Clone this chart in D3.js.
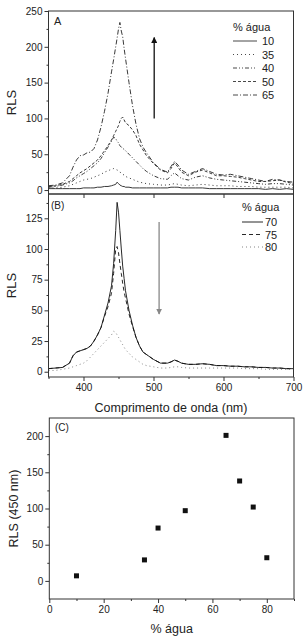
<!DOCTYPE html>
<html>
<head>
<meta charset="utf-8">
<title>RLS vs % água</title>
<script src="https://d3js.org/d3.v7.min.js"></script>
<style>
  body { margin: 0; background: #fff; }
  svg text { font-family: "Liberation Sans", Arial, sans-serif; fill: #222; }
  .frame { fill: none; stroke: #333; stroke-width: 1; }
  .tick line { stroke: #333; }
  .curve { fill: none; stroke-width: 0.9; stroke-linejoin: round; }
</style>
</head>
<body>
<div id="chart"></div>
<script>
// wavelength grid (nm) shared by every spectrum
var wl = [350,360,370,380,385,390,395,400,405,410,415,420,425,430,435,440,443,446,448,450,
          452,454,456,458,460,465,470,475,480,485,490,500,510,520,525,530,535,540,550,560,
          570,580,590,600,610,620,630,640,650,660,670,680,690,700];

// panel A spectra
var a10 = [2,2,2,2,2,2,2,3,3,3,3,4,4,5,5,6,7,8,11,9,
           7,6,5,5,4,4,3,3,3,3,3,3,3,3,4,4,4,3,3,3,
           3,2,2,2,2,2,2,2,2,1,2,1,2,1];
var a35 = [3,3,4,6,8,10,12,14,15,16,18,20,22,25,27,29,30,29,28,27,
           25,24,22,21,19,17,15,13,11,10,9,8,7,7,8,9,8,7,6,7,
           8,7,6,6,6,5,5,5,4,4,4,4,4,3];
var a40 = [4,5,7,10,13,17,20,23,26,30,34,38,44,52,60,68,74,72,68,66,
           62,60,58,57,55,50,45,40,35,30,26,20,16,15,20,24,20,16,14,18,
           20,17,15,14,13,12,11,10,9,8,9,9,8,7];
var a50 = [5,6,8,12,16,20,24,27,30,34,38,42,48,55,62,70,76,82,86,90,
           96,100,102,98,94,90,84,76,64,56,48,37,28,24,30,38,32,25,20,25,
           28,24,20,20,19,18,16,14,12,12,13,14,11,9];
var a65 = [6,7,10,20,32,42,48,49,52,53,58,70,88,110,135,165,182,200,212,225,
           234,222,214,198,184,150,118,92,72,60,52,38,29,25,33,40,35,28,22,26,
           30,26,22,21,22,20,18,16,14,12,15,14,12,11];

// panel B spectra
var b70 = [2.5,3,3.5,7,13,16,17,18,19,21,25,30,36,46,56,70,88,115,138,130,
           115,100,86,76,66,50,38,28,21,16,14,10,7,7,8,9.5,8.5,7,6,6,
           6.5,6,5,5,4.5,4.5,4,4,3.5,3.5,3,3,2.5,2.5];
var b75 = [2.5,3,3.5,7,13,16,17,18,19,21,25,30,36,45,53,64,80,100,102,97,
           88,80,72,65,60,47,37,28,21,16,14,10,7,7,8,9.5,8.5,7,6,6,
           6.5,6,5,5,4.5,4.5,4,4,3.5,3.5,3,3,2.5,2.5];
var b80 = [1,1,2,3,4,5,6,7,9,12,15,18,21,24,27,30,33,32,30,28,
           26,24,22,20,18,15,12,10,8,6,5,4,3,3,3.5,4,4,3.5,3,3,
           3,3,3,3,3,3,2.5,2.5,2.5,2,2,2,2,2];

// panel C
var water = [10,35,40,50,65,70,75,80];
var rls450 = [7,29,73,97,201,138,102,32];

var seriesA = [
  {label: "10", values: a10, dash: null},
  {label: "35", values: a35, dash: "1,3"},
  {label: "40", values: a40, dash: "4,2,1,2,1,2"},
  {label: "50", values: a50, dash: "3,2"},
  {label: "65", values: a65, dash: "5,2,1,2"}
];
var seriesB = [
  {label: "70", values: b70, dash: null, color: "#111"},
  {label: "75", values: b75, dash: "4,3", color: "#111"},
  {label: "80", values: b80, dash: "1,3", color: "#777"}
];

var width = 306, height = 640;
var left = 48.5, right = 293.5;

var svg = d3.select("#chart").append("svg")
  .attr("width", width).attr("height", height);

var defs = svg.append("defs");
function arrowHead(id, color) {
  defs.append("marker")
    .attr("id", id).attr("viewBox", "0 0 10 10")
    .attr("refX", 9).attr("refY", 5)
    .attr("markerWidth", 6).attr("markerHeight", 6)
    .attr("markerUnits", "userSpaceOnUse")
    .attr("orient", "auto")
    .append("path").attr("d", "M0,0L10,5L0,10Z").attr("fill", color);
}
arrowHead("headA", "#111");
arrowHead("headB", "#888");

var x = d3.scaleLinear().domain([350, 700]).range([left, right]);
var yA = d3.scaleLinear().domain([-5.5, 250]).range([194, 11]);
var yB = d3.scaleLinear().domain([-4.3, 144.8]).range([377, 194]);

function yAxis(g, scale, major, minor) {
  g.call(d3.axisLeft(scale).tickValues(major).tickSize(4).tickPadding(2))
    .call(s => s.select(".domain").remove())
    .call(s => s.selectAll("text").style("font-size", "10px"));
  g.append("g").call(d3.axisLeft(scale).tickValues(minor).tickSize(2).tickFormat(""))
    .call(s => s.select(".domain").remove());
}

// ---- panel A ----
var gA = svg.append("g");
yAxis(gA.append("g").attr("transform", `translate(${left},0)`), yA,
  d3.range(0, 251, 50), d3.range(25, 250, 50));
gA.append("g").attr("transform", "translate(0,194)")
  .call(d3.axisBottom(x).tickValues([400, 500, 600]).tickSize(4).tickFormat(""))
  .call(s => s.select(".domain").remove());

var lineA = d3.line().x((d, i) => x(wl[i])).y(d => yA(d));
gA.selectAll(".curveA").data(seriesA).enter().append("path")
  .attr("class", "curve")
  .attr("d", d => lineA(d.values))
  .attr("stroke", "#222")
  .attr("stroke-dasharray", d => d.dash);

gA.append("rect").attr("class", "frame")
  .attr("x", left).attr("y", yA(250)).attr("width", right - left).attr("height", 194 - yA(250));
gA.append("text").attr("x", 54).attr("y", 25).style("font-size", "11px").text("A");
gA.append("text").attr("transform", `translate(16,${(yA(250) + 194) / 2}) rotate(-90)`)
  .attr("text-anchor", "middle").style("font-size", "13px").text("RLS");

gA.append("line")
  .attr("x1", x(501)).attr("x2", x(501))
  .attr("y1", yA(100)).attr("y2", yA(213))
  .attr("stroke", "#111").attr("stroke-width", 1.3)
  .attr("marker-end", "url(#headA)");

var legA = gA.append("g").attr("transform", "translate(233,0)");
legA.append("text").attr("x", 0).attr("y", 31).style("font-size", "11px").text("% água");
legA.selectAll(".row").data(seriesA).enter().append("g")
  .attr("transform", (d, i) => `translate(0,${41 + i * 13.5})`)
  .each(function(d) {
    var r = d3.select(this);
    r.append("line").attr("x1", 0).attr("x2", 24).attr("y1", 0).attr("y2", 0)
      .attr("stroke", "#333").attr("stroke-width", 0.9).attr("stroke-dasharray", d.dash);
    r.append("text").attr("x", 29).attr("y", 4).style("font-size", "11px").text(d.label);
  });

// ---- panel B ----
var gB = svg.append("g");
yAxis(gB.append("g").attr("transform", `translate(${left},0)`), yB,
  d3.range(0, 126, 25), d3.range(12.5, 140, 25));
gB.append("g").attr("transform", "translate(0,377)")
  .call(d3.axisBottom(x).tickValues([400, 500, 600, 700]).tickSize(4).tickPadding(3))
  .call(s => s.select(".domain").remove())
  .call(s => s.selectAll("text").style("font-size", "10px"));
gB.append("g").attr("transform", "translate(0,377)")
  .call(d3.axisBottom(x).tickValues([350, 450, 550, 650]).tickSize(2).tickFormat(""))
  .call(s => s.select(".domain").remove());

var lineB = d3.line().x((d, i) => x(wl[i])).y(d => yB(d));
gB.selectAll(".curveB").data(seriesB).enter().append("path")
  .attr("class", "curve")
  .attr("d", d => lineB(d.values))
  .attr("stroke", d => d.color)
  .attr("stroke-dasharray", d => d.dash);

gB.append("rect").attr("class", "frame")
  .attr("x", left).attr("y", 194).attr("width", right - left).attr("height", 377 - 194);
gB.append("text").attr("x", 51).attr("y", 209).style("font-size", "10px").text("(B)");
gB.append("text").attr("transform", `translate(16,${(194 + 377) / 2}) rotate(-90)`)
  .attr("text-anchor", "middle").style("font-size", "13px").text("RLS");
gB.append("text").attr("x", (left + right) / 2).attr("y", 412)
  .attr("text-anchor", "middle").style("font-size", "12.5px").text("Comprimento de onda (nm)");

gB.append("line")
  .attr("x1", x(508)).attr("x2", x(508))
  .attr("y1", yB(122)).attr("y2", yB(47))
  .attr("stroke", "#888").attr("stroke-width", 1.3)
  .attr("marker-end", "url(#headB)");

var legB = gB.append("g").attr("transform", "translate(242,0)");
legB.append("text").attr("x", 0).attr("y", 211).style("font-size", "11px").text("% água");
legB.selectAll(".row").data(seriesB).enter().append("g")
  .attr("transform", (d, i) => `translate(0,${222 + i * 12.5})`)
  .each(function(d) {
    var r = d3.select(this);
    r.append("line").attr("x1", 0).attr("x2", 21).attr("y1", 0).attr("y2", 0)
      .attr("stroke", d.color).attr("stroke-width", 0.9).attr("stroke-dasharray", d.dash);
    r.append("text").attr("x", 23).attr("y", 4).style("font-size", "11px").text(d.label);
  });

// ---- panel C ----
var xC = d3.scaleLinear().domain([0, 90]).range([49.3, 294]);
var yC = d3.scaleLinear().domain([-25, 225]).range([599, 418]);
var gC = svg.append("g");
yAxis(gC.append("g").attr("transform", "translate(49.3,0)"), yC,
  d3.range(0, 201, 50), d3.range(25, 225, 50));
gC.append("g").attr("transform", "translate(0,599)")
  .call(d3.axisBottom(xC).tickValues(d3.range(0, 81, 20)).tickSize(4).tickPadding(3))
  .call(s => s.select(".domain").remove())
  .call(s => s.selectAll("text").style("font-size", "10px"));
gC.append("g").attr("transform", "translate(0,599)")
  .call(d3.axisBottom(xC).tickValues(d3.range(10, 91, 20)).tickSize(2).tickFormat(""))
  .call(s => s.select(".domain").remove());
gC.append("rect").attr("class", "frame")
  .attr("x", 49.3).attr("y", 418).attr("width", 294 - 49.3).attr("height", 599 - 418);

gC.selectAll(".pt").data(water).enter().append("rect")
  .attr("x", d => xC(d) - 2.5)
  .attr("y", (d, i) => yC(rls450[i]) - 2.5)
  .attr("width", 5).attr("height", 5)
  .attr("fill", "#111");

gC.append("text").attr("x", 55).attr("y", 431).style("font-size", "10px").text("(C)");
gC.append("text").attr("transform", `translate(18,${(418 + 599) / 2}) rotate(-90)`)
  .attr("text-anchor", "middle").style("font-size", "12.5px").text("RLS (450 nm)");
gC.append("text").attr("x", (49.3 + 294) / 2).attr("y", 633)
  .attr("text-anchor", "middle").style("font-size", "12.5px").text("% água");
</script>
</body>
</html>
